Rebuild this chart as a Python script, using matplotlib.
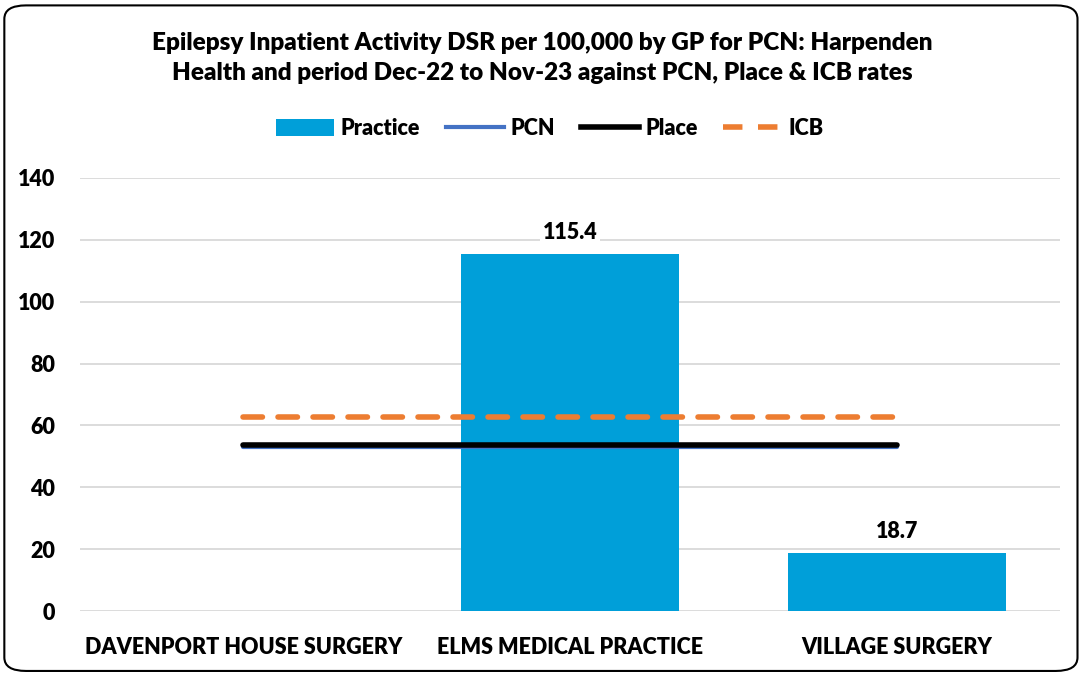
import matplotlib.pyplot as plt
import numpy as np
from matplotlib.patches import FancyBboxPatch, Patch
from matplotlib.lines import Line2D

plt.rcParams['font.family'] = ['Lato', 'DejaVu Sans']
plt.rcParams['font.weight'] = 'bold'

# ── Data ──────────────────────────────────────────────────────────────────────
practices = ['DAVENPORT HOUSE SURGERY', 'ELMS MEDICAL PRACTICE', 'VILLAGE SURGERY']
practice_rate = [0.0, 115.4, 18.7]
pcn_rate = [53.0, 53.0, 53.0]
place_rate = [53.7, 53.7, 53.7]
icb_rate = [62.7, 62.7, 62.7]

title = ('Epilepsy Inpatient Activity DSR per 100,000 by GP for PCN: Harpenden\n'
         'Health and period Dec-22 to Nov-23 against PCN, Place & ICB rates')

# ── Figure ────────────────────────────────────────────────────────────────────
fig = plt.figure(figsize=(10.84, 6.75), dpi=100)
ax = fig.add_axes([0.0738, 0.0948, 0.9042, 0.6415])

x = np.arange(len(practices))
ax.bar(x, practice_rate, width=0.667, color='#009FD9', zorder=2)
ax.plot(x, pcn_rate, color='#4472C4', linewidth=3, solid_capstyle='round', zorder=3)
ax.plot(x, place_rate, color='black', linewidth=4, solid_capstyle='round', zorder=4)
ax.plot(x, icb_rate, color='#ED7D31', linewidth=4, linestyle=(0, (3.5, 2.8)),
        dash_capstyle='round', zorder=4)

for xi, v in zip(x, practice_rate):
    if v > 0:
        ax.text(xi, v + 7, f'{v:.1f}', ha='center', va='center', fontsize=15.5,
                fontweight='heavy', zorder=5,
                bbox=dict(facecolor='white', edgecolor='none', pad=2))

ax.set_xlim(-0.5, 2.5)
ax.set_ylim(0, 140)
ax.set_yticks(np.arange(0, 141, 20))
ax.set_xticks(x)
ax.set_xticklabels(practices, fontsize=15.5, fontweight='heavy')
for lbl in ax.get_yticklabels():
    lbl.set_fontweight('heavy')
ax.tick_params(axis='y', labelsize=15.5, length=0, pad=18)
ax.tick_params(axis='x', length=0, pad=19)
ax.grid(axis='y', color='#D9D9D9', linewidth=1.3, zorder=0)
ax.set_axisbelow(True)
for s in ax.spines.values():
    s.set_visible(False)

fig.text(0.5, 0.914, title, ha='center', va='center', fontsize=17.5,
         fontweight='heavy', linespacing=1.42)

handles = [
    Patch(facecolor='#009FD9', edgecolor='none', label='Practice'),
    Line2D([], [], color='#4472C4', linewidth=3, label='PCN'),
    Line2D([], [], color='black', linewidth=4, label='Place'),
    Line2D([], [], color='#ED7D31', linewidth=4, linestyle=(0, (3.5, 2.8)), label='ICB'),
]
leg = fig.legend(handles=handles, loc='center', bbox_to_anchor=(0.507, 0.81), ncol=4,
                 frameon=False, fontsize=15.5, handlelength=2.7, handleheight=0.8,
                 columnspacing=1.2, handletextpad=0.3)
for t in leg.get_texts():
    t.set_fontweight('heavy')

border = FancyBboxPatch((0.004, 0.006), 0.99, 0.986, transform=fig.transFigure,
                        boxstyle='round,pad=0,rounding_size=0.02',
                        facecolor='none', edgecolor='black', linewidth=1.5)
fig.patches.append(border)

fig.savefig('out.png', dpi=100, facecolor='white')
